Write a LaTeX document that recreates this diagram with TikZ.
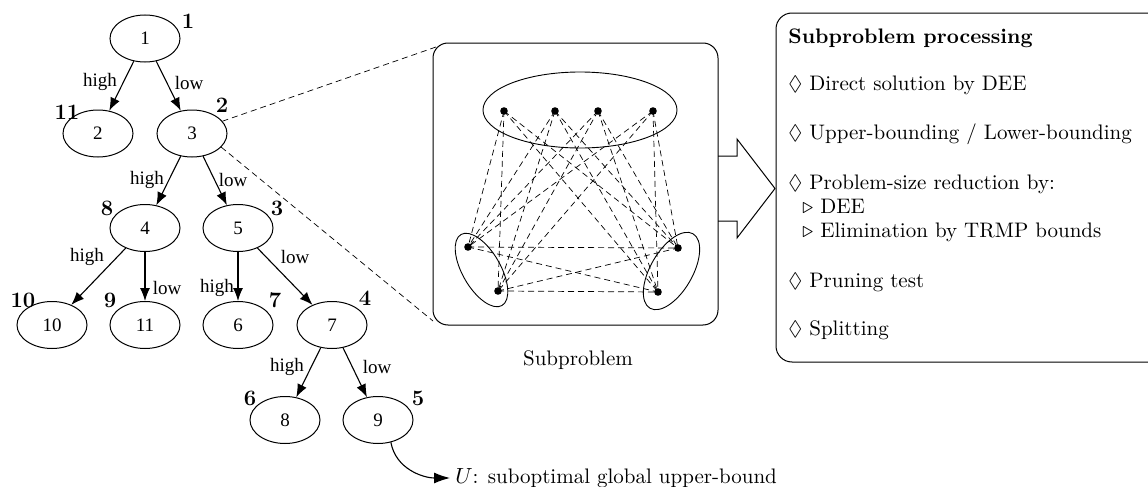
\documentclass[tikz,border=0pt]{standalone}
\usepackage{fontspec}
\usepackage{amssymb}
\newfontfamily\timesf{Liberation Serif}
\usetikzlibrary{shapes.geometric,arrows.meta}
\begin{document}
\begin{tikzpicture}[x=0.5pt,y=-0.5pt,
 tn/.style={ellipse,draw,line width=0.5pt,minimum width=35pt,minimum height=23.5pt,inner sep=0pt,font=\timesf\fontsize{9.5}{10}\selectfont},
 num/.style={font=\fontsize{11}{12}\selectfont\bfseries,inner sep=0pt},
 el/.style={font=\timesf\fontsize{9.5}{10}\selectfont,inner sep=0pt},
 tedge/.style={-{Latex[length=6.5pt,width=5pt]},line width=0.55pt},
 dl/.style={dash pattern=on 3pt off 2pt, line width=0.35pt},
 sdot/.style={circle,fill,inner sep=0pt,minimum size=3.8pt},
 pitem/.style={anchor=base west,inner sep=0pt,font=\fontsize{10.5}{12}\selectfont}
]
\useasboundingbox (0,0) rectangle (1148,487);
% tree nodes
\node[tn] (n1) at (145,38.5) {1};
\node[tn] (n2) at (98,133.5) {2};
\node[tn] (n3) at (192,133.5) {3};
\node[tn] (n4) at (145,228) {4};
\node[tn] (n5) at (238,228) {5};
\node[tn] (n10) at (52,325) {10};
\node[tn] (n11) at (145,325) {11};
\node[tn] (n6) at (238,325) {6};
\node[tn] (n7) at (332,325) {7};
\node[tn] (n8) at (285,420) {8};
\node[tn] (n9) at (378,420) {9};
% order numbers
\node[num] (o1) at (188,21) {1};
\node[num] (o11) at (67,112) {11};
\node[num] (o2) at (222,105) {2};
\node[num] (o8) at (107,208) {8};
\node[num] (o3) at (277,208) {3};
\node[num] (o10) at (23,300) {10};
\node[num] (o9) at (110,300) {9};
\node[num] (o7) at (275,300) {7};
\node[num] (o4) at (365,298) {4};
\node[num] (o6) at (250,398) {6};
\node[num] (o5) at (418,398) {5};
% edges
\draw[tedge] (n1) -- (n2);
\draw[tedge] (n1) -- (n3);
\draw[tedge] (n3) -- (n4);
\draw[tedge] (n3) -- (n5);
\draw[tedge] (n4) -- (n10);
\draw[tedge] (n4) -- (n11);
\draw[tedge] (n5) -- (n6);
\draw[tedge] (n5) -- (n7);
\draw[tedge] (n7) -- (n8);
\draw[tedge] (n7) -- (n9);
% edge labels
\node[el] (l12) at (100,82) {high};
\node[el] (l13) at (189,83) {low};
\node[el] (l34) at (147,180) {high};
\node[el] (l35) at (233,180) {low};
\node[el] (l410) at (87,257) {high};
\node[el] (l411) at (167,288) {low};
\node[el] (l56) at (217,288) {high};
\node[el] (l57) at (295,257) {low};
\node[el] (l78) at (287,367) {high};
\node[el] (l79) at (377,367) {low};
% upper bound
\coordinate (Uend) at (450,478);
\node[pitem] (U) at (455,483) {$U$: suboptimal global upper-bound};
\draw[-{Latex[length=8pt,width=5.5pt]},line width=0.55pt] (n9.-60) to[out=-80,in=180] (Uend);
% subproblem box
\draw[line width=0.5pt,rounded corners=7.5pt] (433,43) rectangle (718,325);
\coordinate (c1) at (436,47);
\coordinate (c2) at (433,321);
\draw[dl] (n3.22) -- (c1);
\draw[dl] (n3.-25) -- (c2);
\node[inner sep=0pt,anchor=base,font=\fontsize{10.5}{12}\selectfont] (spl) at (578,365) {Subproblem};
% groups
\draw[line width=0.45pt] (580,110) ellipse [x radius=48.5pt, y radius=19pt];
\draw[line width=0.45pt,rotate around={-60:(481.5,270)}] (481.5,270) ellipse [x radius=20.5pt, y radius=9.5pt];
\draw[line width=0.45pt,rotate around={60:(671.5,271)}] (671.5,271) ellipse [x radius=21.5pt, y radius=10.5pt];
\node[sdot] (T1) at (504,111) {};
\node[sdot] (T2) at (555,111) {};
\node[sdot] (T3) at (598,111) {};
\node[sdot] (T4) at (653,111) {};
\node[sdot] (L1) at (468,247) {};
\node[sdot] (L2) at (498,291) {};
\node[sdot] (R1) at (678,248) {};
\node[sdot] (R2) at (658,292) {};
\foreach \t in {T1,T2,T3,T4}{
  \foreach \b in {L1,L2,R1,R2}{
    \draw[dl] (\t.center) -- (\b.center);
  }
}
\foreach \a in {L1,L2}{
  \foreach \b in {R1,R2}{
    \draw[dl] (\a.center) -- (\b.center);
  }
}
% block arrow
\draw[line width=0.5pt] (718,156) -- (737,156) -- (737,139) -- (775,188.5) -- (737,238) -- (737,221) -- (718,221);
% processing box
\begin{scope}
\clip (0,0) rectangle (1148,487);
\draw[line width=0.5pt,rounded corners=8pt] (776,13) rectangle (1180,362);
\end{scope}
\node[pitem] (h) at (788,43) {\bfseries Subproblem processing};
\node[pitem] (i1) at (788,90.5) {$\Diamond$ Direct solution by DEE};
\node[pitem] (i2) at (788,140) {$\Diamond$ Upper-bounding / Lower-bounding};
\node[pitem] (i3) at (788,189) {$\Diamond$ Problem-size reduction by:};
\node[pitem] (i4) at (802,213) {$\triangleright$ DEE};
\node[pitem] (i5) at (802,237) {$\triangleright$ Elimination by TRMP bounds};
\node[pitem] (i6) at (788,287) {$\Diamond$ Pruning test};
\node[pitem] (i7) at (788,335.5) {$\Diamond$ Splitting};
\end{tikzpicture}
\end{document}
